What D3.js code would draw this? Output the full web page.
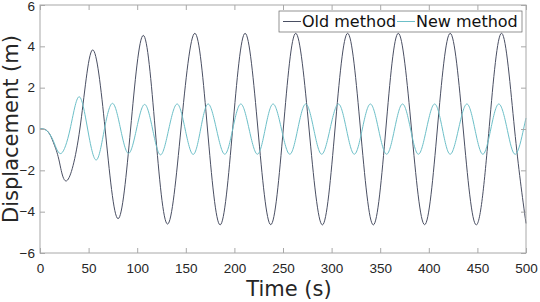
<!DOCTYPE html>
<html>
<head>
<meta charset="utf-8">
<script src="https://cdn.jsdelivr.net/npm/d3@7"></script>
<style>
  body { margin: 0; background: #fff; }
  svg { display: block; font-family: "DejaVu Sans", sans-serif; }
</style>
</head>
<body>
<div id="chart"></div>
<script>
var w = 540,
  h = 302;

// values: extrema and zero crossings
var oldTime = [0, 5, 10, 15, 20, 27.7, 41, 53.8, 67, 80.2, 93.2, 106.2, 118.5, 131.2, 145, 159.3, 172.3, 185.3, 198.2, 211, 224.2, 237.4, 250.3, 263.1, 276.8, 290.5, 303.5, 316.5, 329.7, 342.9, 355.8, 368.6, 382.2, 395.7, 408.8, 422, 435.4, 448.8, 462, 475.1, 488.2, 500];
var oldDisp = [0, -0.02, -0.25, -0.8, -1.6, -2.5, 0, 3.82, 0, -4.34, 0, 4.53, 0, -4.6, 0, 4.63, 0, -4.64, 0, 4.63, 0, -4.63, 0, 4.63, 0, -4.64, 0, 4.63, 0, -4.64, 0, 4.63, 0, -4.63, 0, 4.63, 0, -4.64, 0, 4.63, 0, -4.57];

var newTime = [0, 5, 10, 15, 21.9, 31, 40.1, 49, 57.9, 66.3, 74.7, 82.9, 91.1, 99.3, 107.6, 115.8, 124, 132.5, 141.1, 149.3, 157.6, 165.3, 173, 181.5, 190.1, 198.3, 206.6, 215.1, 223.7, 231.7, 239.8, 248.4, 257, 265.2, 273.4, 281.6, 289.8, 298.4, 307, 315.2, 323.4, 331.6, 339.9, 348.2, 356.6, 364.8, 373, 381.2, 389.3, 397.6, 406, 414, 422, 430.6, 439.2, 447.4, 455.6, 463.8, 472, 480.6, 489.2, 497.5, 500];
var newDisp = [0, -0.02, -0.25, -0.72, -1.18, 0, 1.56, 0, -1.5, 0, 1.24, 0, -1.18, 0, 1.19, 0, -1.25, 0, 1.21, 0, -1.23, 0, 1.21, 0, -1.22, 0, 1.21, 0, -1.22, 0, 1.21, 0, -1.22, 0, 1.21, 0, -1.22, 0, 1.21, 0, -1.22, 0, 1.21, 0, -1.22, 0, 1.21, 0, -1.22, 0, 1.21, 0, -1.22, 0, 1.21, 0, -1.22, 0, 1.21, 0, -1.22, 0, 0.53];

var xTicks = [0, 50, 100, 150, 200, 250, 300, 350, 400, 450, 500];
var yTicks = [-6, -4, -2, 0, 2, 4, 6];
var seriesNames = ["Old method", "New method"];
var seriesColors = ["#4a4f63", "#6cbfc8"];

var x = d3.scaleLinear().domain([0, 500]).range([40, 526]);
var y = d3.scaleLinear().domain([-6, 6]).range([253, 5]);

var svg = d3.select("#chart").append("svg").attr("width", w).attr("height", h);

function toPoints(ts, vs) {
  return ts.map(function(t, i) { return [t, vs[i]]; });
}

var line = d3.line()
  .x(function(d) { return x(d[0]); })
  .y(function(d) { return y(d[1]); })
  .curve(d3.curveNatural);

var plot = svg.append("g");
plot.append("path").datum(toPoints(oldTime, oldDisp))
  .attr("d", line).attr("fill", "none").attr("stroke", seriesColors[0]).attr("stroke-width", 1);
plot.append("path").datum(toPoints(newTime, newDisp))
  .attr("d", line).attr("fill", "none").attr("stroke", seriesColors[1]).attr("stroke-width", 1);

// axes with inward ticks on all four sides
function styleAxis(g, labels) {
  g.select(".domain").remove();
  g.selectAll(".tick line").attr("stroke", "#a8a8a8");
  g.selectAll(".tick text").attr("fill", "#262626").style("font-size", "13.5px");
  if (!labels) g.selectAll(".tick text").remove();
}

svg.append("g").attr("transform", "translate(0,253)")
  .call(d3.axisBottom(x).tickValues(xTicks).tickSize(-5).tickPadding(10).tickFormat(d3.format("d")))
  .call(styleAxis, true);
svg.append("g").attr("transform", "translate(0,5)")
  .call(d3.axisTop(x).tickValues(xTicks).tickSize(-5))
  .call(styleAxis, false);
var yAxisG = svg.append("g").attr("transform", "translate(40,0)")
  .call(d3.axisLeft(y).tickValues(yTicks).tickSize(-5).tickPadding(5).tickFormat(d3.format("d")))
  .call(styleAxis, true);
// keep the top label inside the page
yAxisG.selectAll(".tick text").filter(function(d) { return d === 6; }).attr("dy", "0.4em");
svg.append("g").attr("transform", "translate(526,0)")
  .call(d3.axisRight(y).tickValues(yTicks).tickSize(-5))
  .call(styleAxis, false);

svg.selectAll(".tick text").attr("font-family", null);

svg.append("rect")
  .attr("x", x(0)).attr("y", y(6))
  .attr("width", x(500) - x(0)).attr("height", y(-6) - y(6))
  .attr("fill", "none").attr("stroke", "#a8a8a8").attr("stroke-width", 1);

// axis labels
svg.append("text").attr("x", 289).attr("y", 296)
  .attr("text-anchor", "middle").attr("fill", "#262626")
  .style("font-size", "21px").text("Time (s)");
svg.append("text").attr("transform", "translate(18,129) rotate(-90)")
  .attr("text-anchor", "middle").attr("fill", "#262626")
  .style("font-size", "21px").text("Displacement (m)");

// legend
var legend = svg.append("g");
legend.append("rect").attr("x", 279).attr("y", 11).attr("width", 243).attr("height", 21)
  .attr("fill", "#fff").attr("stroke", "#666").attr("stroke-width", 0.7);
var legendX = [283, 397];
seriesNames.forEach(function(name, i) {
  legend.append("line")
    .attr("x1", legendX[i]).attr("x2", legendX[i] + 18)
    .attr("y1", 21.5).attr("y2", 21.5)
    .attr("stroke", seriesColors[i]).attr("stroke-width", 1);
  legend.append("text").attr("x", legendX[i] + 19).attr("y", 27.3)
    .attr("fill", "#111").style("font-size", "16px").text(name);
});
</script>
</body>
</html>
